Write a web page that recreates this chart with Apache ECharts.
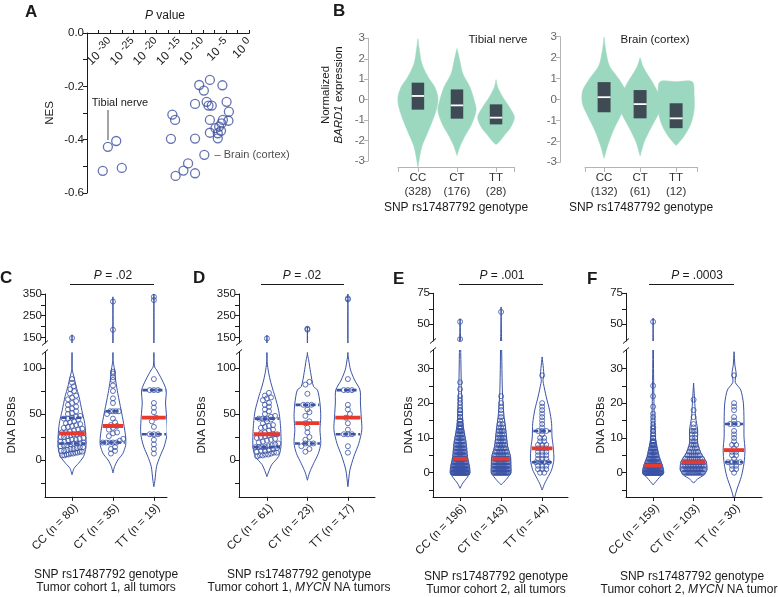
<!DOCTYPE html>
<html><head><meta charset="utf-8">
<script src="https://cdn.jsdelivr.net/npm/echarts@6/dist/echarts.min.js"></script>
<style>html,body{margin:0;padding:0;background:#fff}#c{width:778px;height:597px}</style>
</head><body><div id="c"></div>
<script>
// ---------------- DATA ----------------
// Panel A: eQTL P value (log10) and NES per tissue
const aLogP = [-30.5,-28.7,-31.6,-27.5,-16.9,-16.6,-16.0,-15.9,-14.2,-13.2,-11.7,-11.7,-11.7,-10.8,-8.5,-5.8,-9.8,-9.2,-8.8,-8.1,-4.9,-4.4,-8.5,-5.7,-4.5,-6.0,-6.5,-7.3,-6.1,-8.5,-6.8,-6.8,-9.7];
const aNES  = [-0.427,-0.405,-0.517,-0.506,-0.397,-0.306,-0.326,-0.536,-0.516,-0.489,-0.526,-0.396,-0.266,-0.195,-0.176,-0.196,-0.216,-0.258,-0.272,-0.272,-0.258,-0.295,-0.326,-0.326,-0.329,-0.339,-0.351,-0.357,-0.367,-0.374,-0.376,-0.395,-0.457];
const aTibialIdx = 0, aBrainIdx = 32;
const aXLabels = [-30,-25,-20,-15,-10,-5,0];

// Panel B: GTEx violins (value, relative density)
const bCats = ['CC','CT','TT'];
const bTibialN = [328,176,28];
const bBrainN = [132,61,12];
const bTibialProf = [
  [[2.99,0],[2.4,0.04],[1.76,0.1],[1.11,0.26],[0.62,0.43],[0.13,0.51],[-0.35,0.49],[-1.0,0.38],[-1.65,0.24],[-2.3,0.1],[-2.95,0.03],[-3.3,0]],
  [[2.5,0],[1.93,0.07],[1.27,0.15],[0.62,0.33],[-0.03,0.44],[-0.52,0.49],[-1.18,0.38],[-1.83,0.19],[-2.32,0.07],[-2.73,0]],
  [[0.98,0],[0.62,0.04],[0.13,0.17],[-0.36,0.34],[-0.85,0.47],[-1.34,0.38],[-1.75,0.21],[-2.08,0.07],[-2.19,0]]
];
const bTibialQ1 = [-0.49,-0.93,-1.21], bTibialMed = [0.18,-0.28,-0.88], bTibialQ3 = [0.83,0.5,-0.23];
const bBrainProf = [
  [[2.98,0],[2.3,0.05],[1.6,0.15],[1.0,0.4],[0.4,0.6],[-0.2,0.6],[-0.8,0.45],[-1.5,0.25],[-2.2,0.1],[-2.8,0]],
  [[2.0,0],[1.5,0.1],[0.8,0.35],[0.1,0.55],[-0.5,0.55],[-1.2,0.35],[-2.0,0.12],[-2.7,0]],
  [[0.85,0],[0.85,0.45],[0.2,0.5],[-0.5,0.5],[-1.2,0.4],[-1.8,0.2],[-2.2,0]]
];
const bBrainQ1 = [-0.61,-0.9,-1.37], bBrainMed = [0.11,-0.22,-0.9], bBrainQ3 = [0.83,0.45,-0.18];

// Panel C: tumor cohort 1, all tumors
const cCats = ['CC (n = 80)','CT (n = 35)','TT (n = 19)'];
const cCC = [147,88,84,80,77,75,72,70,68,66,64,62,60,58,56,55,53,51,50,48,47,46,45,45,44,42,41,40,39,38,37,36,35,34,33,32,31,30,30,29,29,28,28,27,26,25,25,24,23,22,22,21,20,20,19,18,18,18,17,16,16,15,14,14,13,12,12,11,10,10,9,9,8,8,7,7,6,6,5,5];
const cCT = [315,185,96,94,90,87,81,75,67,62,53,53,53,53,50,45,41,38,37,35,33,30,29,26,23,21,19,19,19,19,19,14,12,10,7];
const cTT = [337,322,88,76,76,76,62,57,52,46,42,36,28,28,28,22,17,12,7];
const cMed = [29,37,46], cQ1 = [18,19,28], cQ3 = [46,53,76];
const cProf = [
  [[162,0],[100,0],[95,0.02],[90,0.05],[80,0.1],[69,0.17],[54,0.24],[40,0.31],[25,0.34],[14,0.34],[4,0.285],[-4,0.15],[-9,0.05],[-16,0]],
  [[337,0],[110,0],[103,0.02],[98,0.04],[87,0.065],[72,0.12],[54,0.2],[40,0.26],[25,0.31],[16,0.31],[7,0.24],[0,0.12],[-7,0.04],[-14,0]],
  [[352,0],[110,0],[101,0.02],[98,0.065],[87,0.2],[76,0.3],[62,0.285],[47,0.31],[33,0.325],[25,0.31],[14,0.245],[4,0.15],[-7,0.065],[-22,0.025],[-29,0]]
];

// Panel D: tumor cohort 1, MYCN NA tumors
const dCats = ['CC (n = 61)','CT (n = 23)','TT (n = 17)'];
const dCC = [145,73,70,68,67,65,62,60,58,55,53,50,48,47,45,45,45,44,42,40,38,37,36,35,33,32,30,29,28,28,27,26,25,24,23,22,21,20,19,18,17,16,15,14,14,14,14,13,12,11,10,10,9,8,8,7,6,6,5,5,4];
const dCT = [190,185,85,82,72,60,60,60,55,52,48,42,40,35,30,25,22,18,18,18,15,12,9];
const dTT = [330,325,88,76,76,76,60,55,50,46,40,33,28,28,28,15,8];
const dMed = [28,40,46], dQ1 = [14,18,28], dQ3 = [45,60,76];
const dProf = [
  [[160,0],[110,0],[98,0.03],[87,0.08],[76,0.15],[69,0.2],[54,0.29],[40,0.33],[29,0.345],[14,0.345],[4,0.29],[-5,0.12],[-13,0.04],[-18,0]],
  [[200,0],[116,0],[109,0.03],[95,0.08],[80,0.15],[76,0.25],[62,0.31],[47,0.33],[33,0.31],[18,0.33],[7,0.27],[-4,0.15],[-14,0.05],[-22,0]],
  [[355,0],[115,0],[109,0.02],[98,0.065],[87,0.165],[76,0.3],[62,0.31],[47,0.33],[33,0.345],[18,0.27],[4,0.15],[-11,0.05],[-29,0]]
];

// Panel E: tumor cohort 2, all tumors (value / count)
const eCats = ['CC (n = 196)','CT (n = 143)','TT (n = 44)'];
const eCCvals = [0,1,2,3,4,5,6,7,8,9,10,11,12,13,14,15,16,17,18,19,20,21,22,24,26,38,52];
const eCCcnt  = [37,25,20,15,14,12,10,9,8,6,6,5,5,4,3,3,2,2,2,1,1,1,1,1,1,1,1];
const eCTvals = [0,1,2,3,4,5,6,7,8,9,10,11,12,13,14,15,16,17,18,19,20,22,60];
const eCTcnt  = [21,18,16,13,12,10,8,7,6,5,5,4,4,3,2,2,1,1,1,1,1,1,1];
const eTT = [28,20,19,18,17,16,15,14,13,12,12,12,11,10,10,9,9,8,8,8,7,7,7,6,6,6,5,5,5,4,4,4,3,3,3,3,2,2,2,1,1,1,0,0];
const eMed = [4,4,7], eQ1 = [1,1,3], eQ3 = [8,8,12];
const eProf = [
  [[54.5,0],[40,0.01],[25,0.03],[18,0.05],[13.2,0.08],[8.4,0.15],[4.6,0.18],[1.7,0.23],[0,0.24],[-1.6,0.16],[-3,0.065],[-4.5,0]],
  [[64,0],[40,0.01],[23.8,0.03],[17,0.065],[12.3,0.115],[7.5,0.16],[4.6,0.23],[1.7,0.24],[0,0.24],[-2,0.12],[-3.5,0]],
  [[33.3,0],[30,0.03],[28.3,0.04],[26.5,0.02],[25.7,0.03],[21.8,0.1],[18,0.18],[14.2,0.23],[10.3,0.24],[7.5,0.27],[3.6,0.285],[0.8,0.23],[-1.1,0.15],[-3,0.065],[-5,0]]
];

// Panel F: tumor cohort 2, MYCN NA tumors
const fCats = ['CC (n = 159)','CT (n = 103)','TT (n = 30)'];
const fCCvals = [0,1,2,3,4,5,6,7,8,9,10,11,12,13,14,15,16,17,19,22,25,52];
const fCCcnt  = [45,25,18,14,10,8,7,6,5,4,3,2,2,2,1,1,1,1,1,1,1,1];
const fCTvals = [0,1,2,3,4,5,6,7,8,9,10,11,12,13,14,16,18,21];
const fCTcnt  = [18,16,14,12,9,7,5,4,3,3,2,2,3,1,1,1,1,1];
const fTT = [28,20,19,18,16,15,14,14,14,12,11,10,9,8,8,7,6,6,5,5,4,3,3,3,3,2,2,1,1,0];
const fMed = [2,3,6.5], fQ1 = [0,1,3], fQ3 = [6,5,14];
const fProf = [
  [[55,0],[30,0.01],[15,0.03],[9.4,0.065],[4.6,0.15],[1.7,0.24],[0,0.26],[-1.3,0.16],[-2.6,0.065],[-3.5,0]],
  [[25.8,0],[20,0.03],[16,0.05],[12.3,0.1],[8.4,0.1],[5.6,0.18],[3.2,0.31],[0.8,0.33],[-0.7,0.25],[-1.8,0.1],[-3,0]],
  [[34.8,0],[31,0.02],[28.6,0.05],[26,0.03],[23.8,0.165],[20,0.23],[15.1,0.245],[10.3,0.245],[6.5,0.27],[2.7,0.245],[-1.1,0.18],[-5,0.065],[-7.8,0]]
];

// ---------------- HELPERS ----------------
const FONT = '"Liberation Sans", Arial, sans-serif';
const BLUE = '#3a53a5';
const RED = '#e8392f';
const INK = '#1a1a1a';
const MINT = '#9bd8bf';
const BOX = '#3e4a54';
const GREY = '#b4b4b4';

function expand(vals, cnt) { const o = []; vals.forEach((v, i) => { for (let k = 0; k < cnt[i]; k++) o.push(v); }); return o; }

function widthAt(prof, v) {
  if (v >= prof[0][0]) return prof[0][1];
  for (let k = 0; k < prof.length - 1; k++) {
    const a = prof[k], b = prof[k + 1];
    if (v <= a[0] && v >= b[0]) { const t = a[0] === b[0] ? 0 : (a[0] - v) / (a[0] - b[0]); return a[1] + (b[1] - a[1]) * t; }
  }
  return prof[prof.length - 1][1];
}

function swarm(values, cat, prof, bin, dx, margin) {
  const s = values.slice().sort((a, b) => a - b);
  const rows = []; let cur = null;
  s.forEach(v => { if (cur && v - cur[0] < bin) cur.push(v); else { cur = [v]; rows.push(cur); } });
  const out = [];
  rows.forEach(r => {
    const k = r.length, mid = r[Math.floor(k / 2)];
    const hw = Math.max(0, widthAt(prof, mid) - margin);
    const step = k > 1 ? Math.min(dx, 2 * hw / (k - 1)) : 0;
    r.forEach((v, j) => out.push([cat + (j - (k - 1) / 2) * step, v]));
  });
  return out;
}

const grids = [], xAxes = [], yAxes = [], series = [], graphics = [];
function addGrid(g, x, y) {
  grids.push(Object.assign({ outerBoundsMode: 'none', containLabel: false, show: false }, g));
  const idx = grids.length - 1;
  xAxes.push(Object.assign({ gridIndex: idx, splitLine: { show: false } }, x));
  yAxes.push(Object.assign({ gridIndex: idx, splitLine: { show: false } }, y));
  return idx;
}
const AL = { show: true, onZero: false, lineStyle: { color: INK, width: 1 } };
const AT = { show: true, length: 4, lineStyle: { color: INK, width: 1 } };
const ALB = { color: INK, fontSize: 11.5, fontFamily: FONT, margin: 3 };

function violinSeries(g, profiles, style, smooth, clip) {
  return {
    type: 'custom', xAxisIndex: g, yAxisIndex: g, clip: clip, silent: true, z: 2,
    data: profiles.map((p, i) => [i, p[0][0]]),
    renderItem: function (params, api) {
      const i = api.value(0), prof = profiles[i];
      const unit = api.size([1, 0])[0];
      const pts = [];
      prof.forEach(([v, w]) => { const c = api.coord([i, v]); pts.push([c[0] + w * unit, c[1]]); });
      for (let k = prof.length - 1; k >= 0; k--) { const c = api.coord([i, prof[k][0]]); pts.push([c[0] - prof[k][1] * unit, c[1]]); }
      return { type: 'polygon', shape: { points: pts, smooth: smooth }, style: style };
    }
  };
}
function hLineSeries(g, profiles, vals, cats, style, shrink, z) {
  return {
    type: 'custom', xAxisIndex: g, yAxisIndex: g, clip: true, silent: true, z: z,
    data: cats.map(i => [i, vals[i]]),
    renderItem: function (params, api) {
      const i = api.value(0), v = api.value(1);
      const w = Math.max(0.02, widthAt(profiles[i], v) - shrink);
      const p1 = api.coord([i - w, v]), p2 = api.coord([i + w, v]);
      return { type: 'line', shape: { x1: p1[0], y1: p1[1], x2: p2[0], y2: p2[1] }, style: style };
    }
  };
}

// ---------------- PANEL A ----------------
const gA = addGrid({ left: 87, top: 33, width: 162.3, height: 160 },
  { type: 'value', position: 'top', min: -35, max: 0, axisLine: AL,
    axisTick: Object.assign({}, AT, { length: 3, customValues: [-32.5,-30,-27.5,-25,-22.5,-20,-17.5,-15,-12.5,-10,-7.5,-5,-2.5,0] }),
    axisLabel: { show: false } },
  { type: 'value', min: -0.6, max: 0, axisLine: AL,
    axisTick: Object.assign({}, AT, { customValues: [-0.6,-0.5,-0.4,-0.3,-0.2,-0.1,0] }),
    axisLabel: Object.assign({}, ALB, { customValues: [-0.6,-0.4,-0.2,0], formatter: v => v.toFixed(1) }) });
series.push({
  type: 'scatter', xAxisIndex: gA, yAxisIndex: gA, symbol: 'circle', symbolSize: 9,
  itemStyle: { color: 'rgba(0,0,0,0)', borderColor: '#3e509f', borderWidth: 1.3 },
  data: aLogP.map((x, i) => {
    const d = { value: [x, aNES[i]] };
    if (i === aBrainIdx) d.label = { show: true, position: 'right', distance: 5, formatter: '\u2013 Brain (cortex)', color: INK, fontSize: 11, fontFamily: FONT };
    return d;
  })
});

// ---------------- PANEL B ----------------
function gtexPanel(axisLeft, top, yBottom, plotLeft, plotWidth, xmin, xmax, profs, q1, med, q3, ns, boxW) {
  const pxPerUnit = (yBottom - top) / 6;
  addGrid({ left: axisLeft, top: top, width: 1, height: yBottom - top },
    { type: 'value', show: false, min: 0, max: 1 },
    { type: 'value', min: -3, max: 3, interval: 1,
      axisLine: { show: true, lineStyle: { color: GREY } },
      axisTick: { show: true, length: 4, lineStyle: { color: GREY } },
      axisLabel: { color: '#666', fontSize: 11.5, fontFamily: FONT, margin: 3 } });
  const bottom = 167;
  const g = addGrid({ left: plotLeft, top: top, width: plotWidth, height: bottom - top },
    { type: 'value', min: xmin, max: xmax, axisLine: { show: true, onZero: false, lineStyle: { color: GREY } },
      axisTick: { show: true, length: 5, lineStyle: { color: GREY }, customValues: [xmin, 0, 1, 2, xmax] },
      axisLabel: { color: '#333', fontSize: 11.5, fontFamily: FONT, margin: 4, lineHeight: 14, customValues: [0, 1, 2],
        formatter: v => bCats[Math.round(v)] + '\n(' + ns[Math.round(v)] + ')' } },
    { type: 'value', show: false, min: -3 - (bottom - yBottom) / pxPerUnit, max: 3 });
  series.push(violinSeries(g, profs, { fill: MINT, stroke: MINT, lineWidth: 0.5 }, 0.3, false));
  series.push({
    type: 'custom', xAxisIndex: g, yAxisIndex: g, silent: true, z: 3,
    data: [0, 1, 2].map(i => [i, q1[i], q3[i], med[i]]),
    renderItem: function (params, api) {
      const i = api.value(0);
      const a = api.coord([i - boxW, api.value(2)]), b = api.coord([i + boxW, api.value(1)]);
      const m1 = api.coord([i - boxW, api.value(3)]), m2 = api.coord([i + boxW, api.value(3)]);
      return { type: 'group', children: [
        { type: 'rect', shape: { x: a[0], y: a[1], width: b[0] - a[0], height: b[1] - a[1] }, style: { fill: BOX } },
        { type: 'line', shape: { x1: m1[0], y1: m1[1], x2: m2[0], y2: m2[1] }, style: { stroke: '#fff', lineWidth: 1.8 } }
      ] };
    }
  });
}
gtexPanel(368, 38.3, 161, 398, 116, -0.51, 2.46, bTibialProf, bTibialQ1, bTibialMed, bTibialQ3, bTibialN, 0.16);
gtexPanel(560, 36.7, 162.3, 585, 112, -0.53, 2.58, bBrainProf, bBrainQ1, bBrainMed, bBrainQ3, bBrainN, 0.18);

// ---------------- PANELS C-F ----------------
function brokenPanel(p) {
  const gU = addGrid({ left: p.left, width: p.width, top: p.up.top, height: p.up.height },
    { type: 'value', show: false, min: p.xmin, max: p.xmax },
    { type: 'value', min: p.up.min, max: p.up.max, axisLine: AL,
      axisTick: Object.assign({}, AT, { customValues: p.up.ticks }),
      axisLabel: Object.assign({}, ALB, { customValues: p.up.labels }) });
  const gL = addGrid({ left: p.left, width: p.width, top: p.low.top, height: p.low.height },
    { type: 'value', min: p.xmin, max: p.xmax, axisLine: AL,
      axisTick: Object.assign({}, AT, { customValues: [0, 1, 2] }),
      axisLabel: Object.assign({}, ALB, { rotate: 45, margin: 5, verticalAlign: 'top', customValues: [0, 1, 2], formatter: v => p.cats[Math.round(v)] }) },
    { type: 'value', min: p.low.min, max: p.low.max, axisLine: AL,
      axisTick: Object.assign({}, AT, { customValues: p.low.ticks }),
      axisLabel: Object.assign({}, ALB, { customValues: p.low.labels }) });
  const vstyle = { fill: 'none', stroke: BLUE, lineWidth: 1 };
  series.push(violinSeries(gU, p.prof, vstyle, 0.25, true));
  series.push(violinSeries(gL, p.prof, vstyle, 0.25, true));
  let pts = [];
  p.groups.forEach((vals, i) => { pts = pts.concat(swarm(vals, i, p.prof[i], p.bin, p.dx, 0.06)); });
  const ptStyle = { color: 'rgba(0,0,0,0)', borderColor: BLUE, borderWidth: 1 };
  series.push({ type: 'scatter', xAxisIndex: gU, yAxisIndex: gU, symbolSize: 5, silent: true, z: 3, itemStyle: ptStyle, data: pts.filter(d => d[1] > p.breakVal) });
  series.push({ type: 'scatter', xAxisIndex: gL, yAxisIndex: gL, symbolSize: 5, silent: true, z: 3, itemStyle: ptStyle, data: pts.filter(d => d[1] <= p.breakVal) });
  const qStyle = { stroke: BLUE, lineWidth: 2.6, lineDash: [5, 2.5] };
  series.push(hLineSeries(gL, p.prof, p.q1, p.qCats, qStyle, 0.02, 4));
  series.push(hLineSeries(gL, p.prof, p.q3, p.qCats, qStyle, 0.02, 4));
  series.push(hLineSeries(gL, p.prof, p.med, [0, 1, 2], { stroke: RED, lineWidth: 3.8 }, 0.02, 5));
}
const upC = { top: 294, height: 49, min: 124, max: 350, ticks: [150, 200, 250, 300, 350], labels: [150, 250, 350] };
const lowC = { top: 352.4, height: 144.4, min: -40, max: 117, ticks: [-25, 0, 25, 50, 75, 100], labels: [0, 50, 100] };
const upE = { top: 293.3, height: 47.7, min: 36.5, max: 75, ticks: [50, 62.5, 75], labels: [50, 75] };
const lowE = { top: 350, height: 147, min: -7, max: 35.3, ticks: [-5, 0, 5, 10, 15, 20, 25, 30], labels: [0, 10, 20, 30] };
brokenPanel({ left: 45, width: 122, xmin: -0.66, xmax: 2.32, up: upC, low: lowC, cats: cCats, groups: [cCC, cCT, cTT], prof: cProf, med: cMed, q1: cQ1, q3: cQ3, qCats: [0, 1, 2], breakVal: 120, bin: 5, dx: 0.1 });
brokenPanel({ left: 239, width: 136, xmin: -0.69, xmax: 2.67, up: upC, low: lowC, cats: dCats, groups: [dCC, dCT, dTT], prof: dProf, med: dMed, q1: dQ1, q3: dQ3, qCats: [0, 1, 2], breakVal: 120, bin: 5, dx: 0.1 });
brokenPanel({ left: 433, width: 135, xmin: -0.66, xmax: 2.63, up: upE, low: lowE, cats: eCats, groups: [expand(eCCvals, eCCcnt), expand(eCTvals, eCTcnt), eTT], prof: eProf, med: eMed, q1: eQ1, q3: eQ3, qCats: [2], breakVal: 36, bin: 0.9, dx: 0.1 });
brokenPanel({ left: 626, width: 136, xmin: -0.67, xmax: 2.69, up: upE, low: lowE, cats: fCats, groups: [expand(fCCvals, fCCcnt), expand(fCTvals, fCTcnt), fTT], prof: fProf, med: fMed, q1: fQ1, q3: fQ3, qCats: [2], breakVal: 36, bin: 0.9, dx: 0.1 });

// ---------------- TEXT / ANNOTATIONS ----------------
function txt(x, y, text, opt) {
  opt = opt || {};
  const fs = opt.size || 11.5;
  const st = { text: text, fill: opt.color || INK, fontSize: fs, fontFamily: FONT, fontWeight: opt.bold ? 'bold' : 'normal',
    align: opt.align || 'center', verticalAlign: opt.va || 'middle', textAlign: opt.align || 'center', textVerticalAlign: opt.va || 'middle', lineHeight: opt.lh || fs + 2 };
  if (opt.rich) st.rich = opt.rich;
  graphics.push({ type: 'text', x: x, y: y, rotation: opt.rot || 0, silent: true, style: st });
}
function line(x1, y1, x2, y2, w) { graphics.push({ type: 'line', silent: true, shape: { x1, y1, x2, y2 }, style: { stroke: INK, lineWidth: w || 1 } }); }
const RICH = (fs) => ({ i: { fontStyle: 'italic', fontSize: fs, fontFamily: FONT, fill: INK }, n: { fontSize: fs, fontFamily: FONT, fill: INK } });

[['A', 25, 3], ['B', 333, 2], ['C', 0, 269], ['D', 193, 269], ['E', 393, 270], ['F', 587, 270]].forEach(([t, x, y]) => txt(x, y, t, { size: 17, bold: true, align: 'left', va: 'top' }));
txt(165, 16, '{i|P}{n| value}', { size: 12, rich: RICH(12) });
txt(50, 113, 'NES', { rot: Math.PI / 2 });
txt(120, 103, 'Tibial nerve', { size: 11 });
line(108, 110, 108, 140, 0.8);
txt(332, 95, '{n|Normalized}\n{i|BARD1}{n| expression}', { rot: Math.PI / 2, size: 11.5, lh: 13, rich: RICH(11.5) });
txt(498, 40, 'Tibial nerve', { size: 11.5 });
txt(655, 40, 'Brain (cortex)', { size: 11.5 });
txt(456, 208, 'SNP rs17487792 genotype', { size: 12 });
txt(641, 208, 'SNP rs17487792 genotype', { size: 12 });
[[12, 425], [202, 425], [409, 425], [601, 425]].forEach(([x, y]) => txt(x, y, 'DNA DSBs', { rot: Math.PI / 2, size: 11.5 }));
[[70, 154, 113, 'P = .02'], [261, 344, 302, 'P = .02'], [459, 543, 502, 'P = .001'], [649, 734, 697, 'P = .0003']].forEach(([x1, x2, xc, t]) => {
  line(x1, 284.5, x2, 284.5, 1);
  txt(xc, 276, '{i|P}{n|' + t.slice(1) + '}', { size: 12, rich: RICH(12) });
});
txt(106, 575, 'SNP rs17487792 genotype', { size: 12 });
txt(106, 588, 'Tumor cohort 1, all tumors', { size: 12 });
txt(299, 575, 'SNP rs17487792 genotype', { size: 12 });
txt(299, 588, '{n|Tumor cohort 1, }{i|MYCN}{n| NA tumors}', { size: 12, rich: RICH(12) });
txt(496, 577, 'SNP rs17487792 genotype', { size: 12 });
txt(496, 590, 'Tumor cohort 2, all tumors', { size: 12 });
txt(692, 577, 'SNP rs17487792 genotype', { size: 12 });
txt(692, 590, '{n|Tumor cohort 2, }{i|MYCN}{n| NA tumors}', { size: 12, rich: RICH(12) });
[[45, 343, 352], [239, 343, 352], [433, 341, 350], [626, 341, 350]].forEach(([x, y1, y2]) => {
  line(x - 3, y1 + 2.5, x + 3, y1 - 2.5, 1);
  line(x - 3, y2 + 2.5, x + 3, y2 - 2.5, 1);
});

const chart = echarts.init(document.getElementById('c'));
chart.setOption({
  animation: false,
  backgroundColor: '#fff',
  textStyle: { fontFamily: FONT },
  grid: grids, xAxis: xAxes, yAxis: yAxes, series: series
});
// Panel A P-value tick labels placed at the axis' own tick positions (rotated, inside the plot)
const supRich = { b: { fontSize: 12, fontFamily: FONT, fill: INK }, s: { fontSize: 10.5, fontFamily: FONT, fill: INK, padding: [0, 0, 6, 3] } };
aXLabels.forEach(v => {
  const px = chart.convertToPixel({ gridIndex: gA }, [v, 0]);
  graphics.push({ type: 'text', x: px[0] + 1, y: px[1] + 8, rotation: Math.PI / 4, silent: true,
    style: { text: '{b|10}{s|' + v + '}', rich: supRich, fill: INK, fontSize: 12, fontFamily: FONT, align: 'right', verticalAlign: 'middle', textAlign: 'right', textVerticalAlign: 'middle' } });
});
chart.setOption({ graphic: { elements: graphics } });
</script>
</body></html>
